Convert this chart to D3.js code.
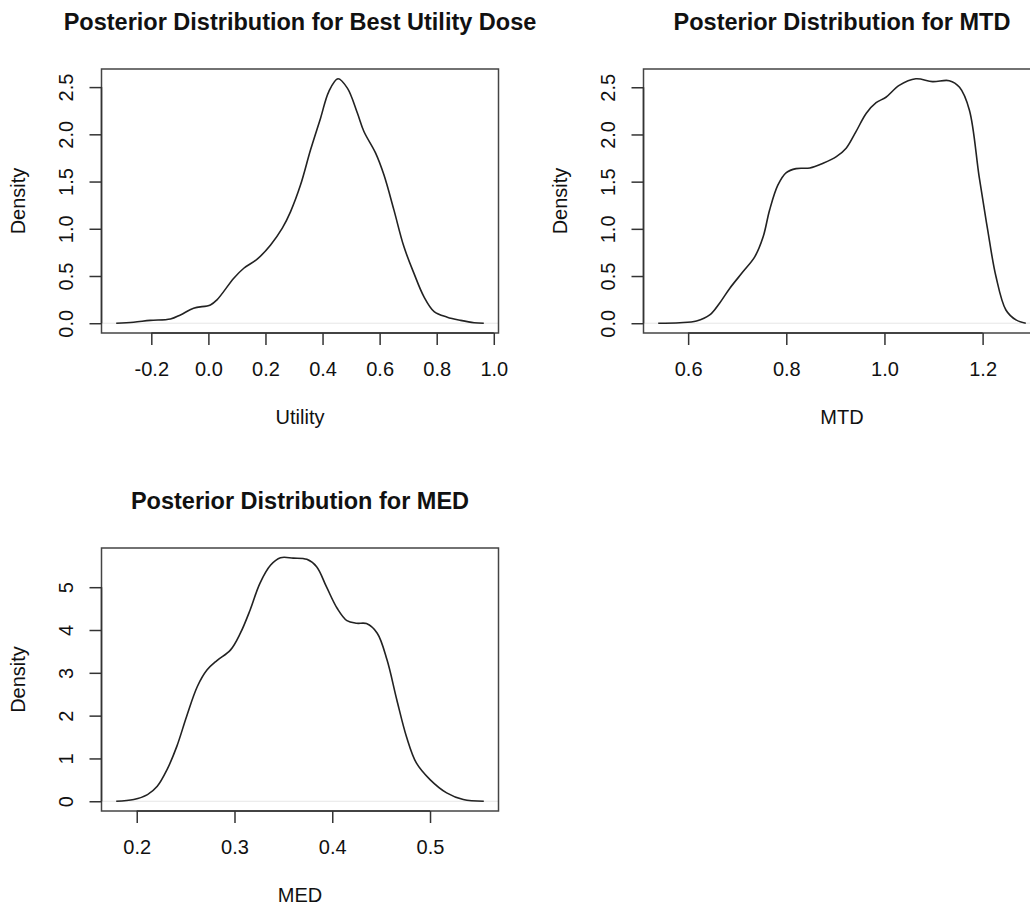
<!DOCTYPE html>
<html>
<head>
<meta charset="utf-8">
<script src="https://cdn.jsdelivr.net/npm/d3@7"></script>
<style>
  html, body { margin: 0; padding: 0; background: #fff; }
  svg { display: block; }
  text { font-family: "Liberation Sans", Arial, Helvetica, sans-serif; fill: #111; }
</style>
</head>
<body>
<svg id="chart" width="1030" height="905"></svg>
<script>
// ---------------- data ----------------
const utilityX = [-0.323,-0.262,-0.204,-0.133,-0.098,-0.052,0.007,0.030,0.089,0.124,0.171,0.218,0.259,0.288,0.323,0.358,0.393,0.422,0.454,0.487,0.522,0.545,0.586,0.615,0.650,0.685,0.720,0.755,0.791,0.837,0.884,0.931,0.965];
const utilityDensity = [0,0.01,0.03,0.045,0.088,0.159,0.194,0.247,0.476,0.582,0.678,0.829,1.006,1.182,1.465,1.836,2.171,2.453,2.588,2.489,2.225,2.030,1.801,1.571,1.200,0.811,0.530,0.282,0.123,0.064,0.03,0.005,0];

const mtdX = [0.539,0.583,0.617,0.644,0.664,0.685,0.712,0.736,0.753,0.766,0.783,0.800,0.820,0.848,0.875,0.902,0.922,0.942,0.963,0.983,1.003,1.030,1.064,1.098,1.132,1.153,1.173,1.193,1.210,1.227,1.2475,1.268,1.288];
const mtdDensity = [0,0.005,0.024,0.088,0.212,0.371,0.547,0.706,0.918,1.200,1.465,1.596,1.638,1.645,1.695,1.765,1.854,2.030,2.225,2.337,2.394,2.52,2.59,2.56,2.57,2.50,2.26,1.55,1.0,0.5,0.14,0.035,0];

const medX = [0.179,0.197,0.211,0.221,0.231,0.241,0.251,0.262,0.272,0.282,0.296,0.306,0.316,0.326,0.337,0.347,0.360,0.374,0.384,0.394,0.405,0.415,0.425,0.435,0.446,0.456,0.466,0.476,0.486,0.500,0.517,0.534,0.555];
const medDensity = [0,0.04,0.156,0.350,0.739,1.282,1.981,2.681,3.070,3.287,3.536,3.925,4.469,5.091,5.517,5.688,5.68,5.650,5.478,5.012,4.508,4.219,4.158,4.15,3.925,3.303,2.371,1.50,0.895,0.506,0.196,0.04,0];

const utilityTicks = [-0.2,0.0,0.2,0.4,0.6,0.8,1.0];
const utilityTickLabels = ["-0.2","0.0","0.2","0.4","0.6","0.8","1.0"];
const mtdTicks = [0.6,0.8,1.0,1.2];
const mtdTickLabels = ["0.6","0.8","1.0","1.2"];
const medTicks = [0.2,0.3,0.4,0.5];
const medTickLabels = ["0.2","0.3","0.4","0.5"];
const densityTicksA = [0,0.5,1.0,1.5,2.0,2.5];
const densityTickLabelsA = ["0.0","0.5","1.0","1.5","2.0","2.5"];
const densityTicksB = [0,1,2,3,4,5];
const densityTickLabelsB = ["0","1","2","3","4","5"];

const titles = ["Posterior Distribution for Best Utility Dose","Posterior Distribution for MTD","Posterior Distribution for MED"];
const xLabels = ["Utility","MTD","MED"];
const yLabel = "Density";

// ---------------- layout ----------------
const LINE = 24;          // one margin line in px
const FONT = 20;          // axis text size
const TITLE_FONT = 23.5;
const panels = [
  {x: utilityX, y: utilityDensity, xt: utilityTicks, xtl: utilityTickLabels, yt: densityTicksA, ytl: densityTickLabelsA,
   title: titles[0], xlab: xLabels[0], left: 101.5, top: 69, width: 397, height: 264},
  {x: mtdX, y: mtdDensity, xt: mtdTicks, xtl: mtdTickLabels, yt: densityTicksA, ytl: densityTickLabelsA,
   title: titles[1], xlab: xLabels[1], left: 643.5, top: 69, width: 397, height: 264},
  {x: medX, y: medDensity, xt: medTicks, xtl: medTickLabels, yt: densityTicksB, ytl: densityTickLabelsB,
   title: titles[2], xlab: xLabels[2], left: 101.5, top: 548, width: 397, height: 263}
];

const svg = d3.select("#chart");
svg.append("rect").attr("width",1030).attr("height",905).attr("fill","#fff");

function padded(ext) {
  const d = (ext[1]-ext[0]) * 0.04;
  return [ext[0]-d, ext[1]+d];
}

panels.forEach(p => {
  const xs = d3.scaleLinear().domain(padded(d3.extent(p.x))).range([p.left, p.left + p.width]);
  const ys = d3.scaleLinear().domain(padded([0, d3.max(p.y)])).range([p.top + p.height, p.top]);
  const g = svg.append("g");
  const bottom = p.top + p.height;

  // zero line
  g.append("line")
    .attr("x1", p.left).attr("x2", p.left + p.width)
    .attr("y1", ys(0)).attr("y2", ys(0))
    .attr("stroke", "#e6e6e6").attr("stroke-width", 1);

  // density curve
  const pts = p.x.map((v,i) => [v, p.y[i]]);
  g.append("path")
    .datum(pts)
    .attr("fill","none")
    .attr("stroke","#222")
    .attr("stroke-width",1.6)
    .attr("stroke-linejoin","round")
    .attr("d", d3.line().x(d => xs(d[0])).y(d => ys(Math.max(0, d[1]))).curve(d3.curveCatmullRom.alpha(0.5)));

  // box
  g.append("rect")
    .attr("x", p.left).attr("y", p.top)
    .attr("width", p.width).attr("height", p.height)
    .attr("fill","none").attr("stroke","#444").attr("stroke-width",1.5);

  // x axis
  const xa = g.append("g").attr("transform", `translate(0,${bottom})`)
    .call(d3.axisBottom(xs).tickValues(p.xt).tickSize(12).tickFormat((d,i) => p.xtl[i]));
  xa.select(".domain").remove();
  xa.selectAll(".tick line").attr("stroke","#333").attr("stroke-width",1.5);
  xa.selectAll(".tick text").attr("dy", null).attr("y", 1.8*LINE)
    .attr("font-size", FONT).attr("fill","#111").style("font-family", '"Liberation Sans", Arial, sans-serif');
  xa.append("line").attr("x1", xs(p.xt[0])).attr("x2", xs(p.xt[p.xt.length-1]))
    .attr("stroke","#333").attr("stroke-width",1.5);

  // y axis
  const ya = g.append("g").attr("transform", `translate(${p.left},0)`)
    .call(d3.axisLeft(ys).tickValues(p.yt).tickSize(12).tickFormat((d,i) => p.ytl[i]));
  ya.select(".domain").remove();
  ya.selectAll(".tick line").attr("stroke","#333").attr("stroke-width",1.5);
  ya.selectAll(".tick text").attr("dy", null).attr("x", null)
    .attr("text-anchor","middle")
    .attr("transform", `translate(${-1.2*LINE},0) rotate(-90)`)
    .attr("font-size", FONT).attr("fill","#111").style("font-family", '"Liberation Sans", Arial, sans-serif');
  ya.append("line").attr("y1", ys(p.yt[0])).attr("y2", ys(p.yt[p.yt.length-1]))
    .attr("stroke","#333").attr("stroke-width",1.5);

  // labels
  g.append("text")
    .attr("x", p.left + p.width/2).attr("y", bottom + 3.8*LINE)
    .attr("text-anchor","middle").attr("font-size", FONT)
    .text(p.xlab);
  g.append("text")
    .attr("transform", `translate(${p.left - 3.2*LINE},${p.top + p.height/2}) rotate(-90)`)
    .attr("text-anchor","middle").attr("font-size", FONT)
    .text(yLabel);
  g.append("text")
    .attr("x", p.left + p.width/2).attr("y", p.top - 39.5)
    .attr("text-anchor","middle").attr("font-size", TITLE_FONT).attr("font-weight","bold")
    .attr("fill","#000")
    .text(p.title);
});
</script>
</body>
</html>
